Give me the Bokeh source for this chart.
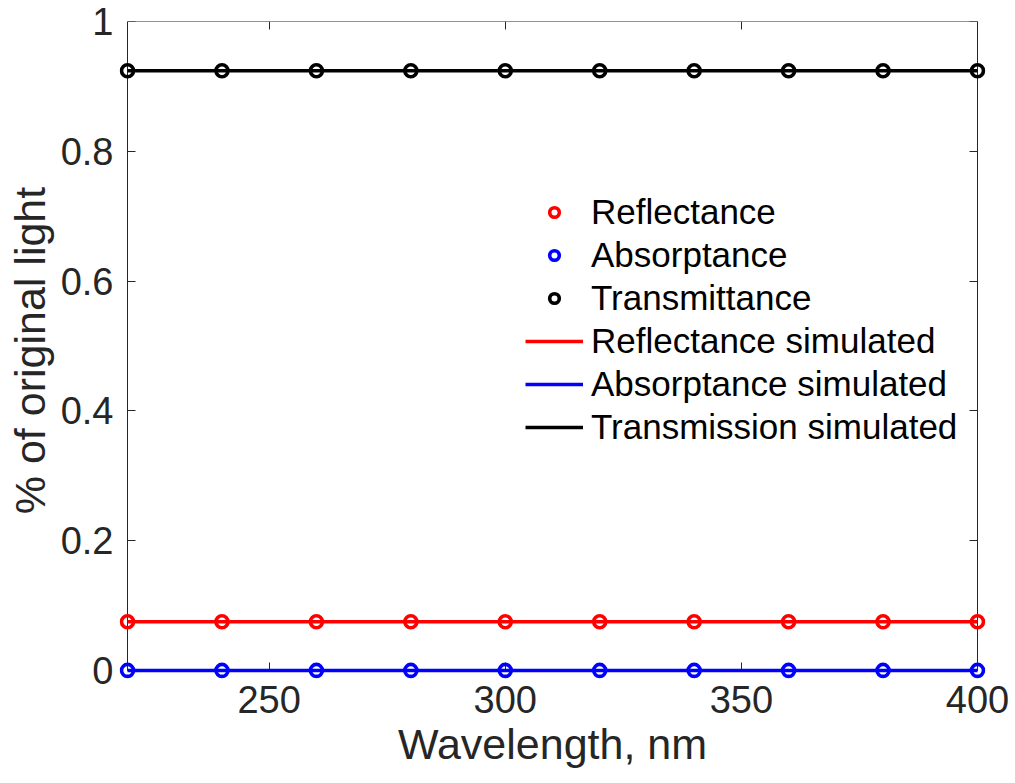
from bokeh.plotting import figure
from bokeh.models import Range1d, LinearAxis, FixedTicker, Legend, LegendItem
from bokeh.embed import file_html
from bokeh.resources import INLINE

# Measured fractions of incident light versus wavelength (nm)
wavelength = [220, 240, 260, 280, 300, 320, 340, 360, 380, 400]
reflectance = [0.075, 0.075, 0.075, 0.075, 0.075, 0.075, 0.075, 0.075, 0.075, 0.075]
absorptance = [0.0, 0.0, 0.0, 0.0, 0.0, 0.0, 0.0, 0.0, 0.0, 0.0]
transmittance = [0.924, 0.924, 0.924, 0.924, 0.924, 0.924, 0.924, 0.924, 0.924, 0.924]

# Simulated curves
sim_wavelength = [220, 400]
reflectance_sim = [0.075, 0.075]
absorptance_sim = [0.0, 0.0]
transmission_sim = [0.924, 0.924]

x_ticks = [250, 300, 350, 400]
y_ticks = [0, 0.2, 0.4, 0.6, 0.8, 1]
y_tick_labels = {0: "0", 0.2: "0.2", 0.4: "0.4", 0.6: "0.6", 0.8: "0.8", 1: "1"}

# axes box limits
x_min, x_max = 220, 400
y_min, y_max = 0, 1

FONT = "Liberation Sans"
AX = "#262626"

# the frame runs a little past the box so that edge markers are not cut off
p = figure(width=1015, height=783, output_backend="svg", toolbar_location=None,
           x_range=Range1d(218.3, 401.7), y_range=Range1d(-0.014, 1.0),
           min_border_left=119, min_border_right=30, min_border_top=21, min_border_bottom=104)
p.grid.visible = False
p.outline_line_color = None
p.background_fill_color = "white"
p.border_fill_color = "white"
p.xaxis.visible = False
p.yaxis.visible = False


def box_axis(ticks, loc, bounds):
    # box edge with inward ticks, no labels
    return LinearAxis(ticker=FixedTicker(ticks=ticks), fixed_location=loc, bounds=bounds,
                      major_tick_in=8, major_tick_out=0, minor_tick_in=0, minor_tick_out=0,
                      axis_line_color=AX, axis_line_width=1, major_tick_line_color=AX,
                      major_label_text_font_size="0px", major_label_text_alpha=0,
                      level="underlay")


def label_axis(ticks, **kw):
    # tick labels and title, drawn at the frame edge
    return LinearAxis(ticker=FixedTicker(ticks=ticks), axis_line_color=None,
                      major_tick_line_color=None, minor_tick_line_color=None,
                      major_tick_in=0, major_tick_out=0, minor_tick_in=0, minor_tick_out=0,
                      major_label_text_color=AX, major_label_text_font=FONT,
                      major_label_text_font_size="38px",
                      axis_label_text_font=FONT, axis_label_text_font_size="43px",
                      axis_label_text_font_style="normal", axis_label_text_color=AX, **kw)


p.add_layout(box_axis(x_ticks, y_min, (x_min, x_max)), "below")
p.add_layout(box_axis(y_ticks, x_min, (y_min, y_max)), "left")
p.add_layout(box_axis(x_ticks, y_max, (x_min, x_max)), "above")
p.add_layout(box_axis(y_ticks, x_max, (y_min, y_max)), "right")

p.add_layout(label_axis(x_ticks, axis_label="Wavelength, nm",
                        major_label_standoff=6, axis_label_standoff=4), "below")
p.add_layout(label_axis(y_ticks, axis_label="% of original light",
                        major_label_standoff=6, axis_label_standoff=4,
                        major_label_overrides=y_tick_labels), "left")

LW = 3.5
r_rs = p.line(sim_wavelength, reflectance_sim, line_color="#ff0000", line_width=LW)
r_as = p.line(sim_wavelength, absorptance_sim, line_color="#0000ff", line_width=LW)
r_ts = p.line(sim_wavelength, transmission_sim, line_color="#000000", line_width=LW)

MS = 12
MW = 3.6
r_r = p.scatter(wavelength, reflectance, marker="circle", size=MS, fill_alpha=0,
                line_color="#ff0000", line_width=MW)
r_a = p.scatter(wavelength, absorptance, marker="circle", size=MS, fill_alpha=0,
                line_color="#0000ff", line_width=MW)
r_t = p.scatter(wavelength, transmittance, marker="circle", size=MS, fill_alpha=0,
                line_color="#000000", line_width=MW)

legend = Legend(items=[
    LegendItem(label="Reflectance", renderers=[r_r]),
    LegendItem(label="Absorptance", renderers=[r_a]),
    LegendItem(label="Transmittance", renderers=[r_t]),
    LegendItem(label="Reflectance simulated", renderers=[r_rs]),
    LegendItem(label="Absorptance simulated", renderers=[r_as]),
    LegendItem(label="Transmission simulated", renderers=[r_ts]),
], location=(406, 232))
legend.border_line_alpha = 0
legend.background_fill_alpha = 0
legend.padding = 0
legend.margin = 0
legend.spacing = 3
legend.glyph_width = 58
legend.glyph_height = 24
legend.label_height = 24
legend.label_standoff = 8
legend.label_text_font = FONT
legend.label_text_font_size = "35px"
legend.label_text_color = "black"
p.add_layout(legend, "center")

open("out.html", "w").write(file_html(p, INLINE))
